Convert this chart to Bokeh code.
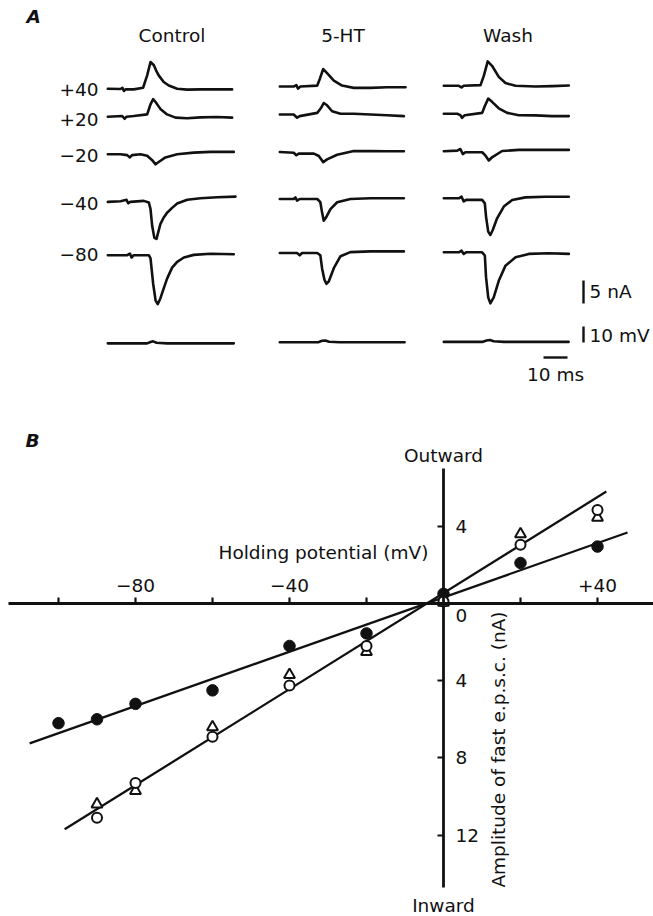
import math
from bokeh.plotting import figure
from bokeh.layouts import column
from bokeh.models import Range1d, LinearAxis, FixedTicker, Label
from bokeh.embed import file_html
from bokeh.resources import INLINE

# ---------------- Panel A data: recorded traces (time ms, current nA) ----------------
conditions = ["Control", "5-HT", "Wash"]
holding_labels = ["+40", "+20", "\u221220", "\u221240", "\u221280"]

ctrl_p40 = [(0, 0), (5.3, -0.07), (6.1, 0.2), (6.7, -0.5), (7.4, -0.15), (10.8, -0.15), (14.7, 0.2),
            (16.4, 2.9), (17.8, 5.8), (19.2, 5.1), (20.1, 4.0), (21.2, 2.9), (23.3, 1.45), (25.4, 0.7),
            (28.9, 0), (33.1, -0.2), (38.6, -0.15), (45.6, -0.15), (51.8, -0.15)]
ctrl_p20 = [(0, 0), (6.0, 0.15), (7.0, -0.45), (7.8, 0), (10.8, 0.15), (16.4, 0.5), (17.8, 2.7),
            (18.9, 3.8), (19.9, 3.2), (21.9, 1.7), (24.7, 0.5), (28.2, -0.2), (33.1, -0.35),
            (38.6, -0.15), (45.6, -0.07), (51.8, -0.2)]
ctrl_m20 = [(0, 0), (5.3, 0), (8.1, -0.2), (9.2, -0.7), (10.1, -0.2), (13.6, 0), (16.4, -0.35),
            (18.5, -1.3), (19.9, -2.2), (21.2, -1.7), (24.0, -0.7), (28.9, 0), (35.8, 0.35),
            (42.8, 0.5), (52.5, 0.5)]
ctrl_m40 = [(0, -0.15), (5.3, 0), (7.8, 0.3), (8.5, -0.45), (9.4, -0.15), (15.0, 0.07), (17.1, -0.3),
            (17.8, -1.7), (18.5, -5.4), (19.4, -7.97), (20.3, -8.2), (21.9, -5.0), (23.3, -3.55),
            (24.7, -2.5), (26.8, -1.45), (28.9, -0.5), (33.1, 0.3), (38.6, 0.65), (45.6, 0.87),
            (53.2, 1.0)]
ctrl_m80 = [(0, 0), (8.1, 0), (9.2, 0.35), (9.9, -0.5), (10.8, 0), (17.1, 0), (17.8, -0.7),
            (18.9, -6.2), (19.9, -9.8), (20.8, -10.65), (21.9, -9.4), (23.3, -7.2), (24.7, -5.1),
            (26.8, -2.7), (28.9, -1.45), (31.7, -0.5), (35.8, 0.07), (42.8, 0.3), (52.5, 0.2)]
ctrl_v = [(0, 0), (16.4, 0), (17.8, 0.8), (18.9, 1.25), (20.3, 0.4), (24.7, 0), (52.5, 0)]

ht_p40 = [(0, 0), (5.8, 0), (6.9, 0.3), (7.6, -0.45), (8.6, 0), (15.6, 0.2), (16.7, 1.7), (18.1, 3.8),
          (19.7, 2.9), (22.5, 1.3), (25.95, 0.2), (30.8, -0.3), (37.8, -0.3), (44.7, -0.15), (52.4, -0.15)]
ht_p20 = [(0, 0), (5.8, 0), (7.2, -0.7), (8.3, -0.35), (15.6, 0.35), (16.7, 1.1), (17.2, 1.45),
          (18.3, 2.5), (19.7, 2.0), (21.8, 0.7), (25.3, 0.15), (30.8, 0.15), (37.8, 0), (44.7, -0.15),
          (51.7, -0.35)]
ht_m20 = [(0, 0), (5.8, -0.15), (6.9, -0.7), (7.9, -0.35), (14.2, -0.35), (16.25, -0.87), (18.1, -2.2),
          (19.7, -1.6), (23.9, -0.6), (30.8, 0.2), (37.8, 0.2), (44.7, 0.15), (51.7, 0.15)]
ht_m40 = [(0, 0), (5.8, 0), (6.5, 0.35), (7.2, -0.35), (8.3, 0), (15.6, 0), (16.9, -0.7), (17.6, -2.9),
          (18.3, -4.7), (19.3, -4.0), (21.1, -2.2), (23.9, -0.7), (29.4, 0), (37.8, 0.15), (51.7, 0.15)]
ht_m80 = [(0, 0), (7.2, 0), (8.3, -0.5), (9.3, 0), (15.6, 0), (16.9, -0.5), (17.6, -3.3), (18.6, -5.8),
          (19.4, -6.7), (20.4, -6.2), (22.5, -3.3), (25.3, -0.7), (29.4, 0.2), (37.8, 0.35), (51.7, 0.35)]
ht_v = [(0, 0), (16.0, 0), (17.6, 0.9), (19.0, 1.1), (20.5, 0.3), (25.0, 0), (52.0, 0)]

w_p40 = [(0, 0), (6.25, 0), (7.4, -0.35), (8.3, 0), (15.3, 0.15), (16.7, 2.2), (18.3, 5.3), (20.1, 4.35),
         (22.9, 1.95), (25.7, 0.6), (29.9, 0), (38.2, -0.15), (45.1, -0.07), (52.1, 0.07)]
w_p20 = [(0, 0), (5.6, 0), (6.9, -0.3), (7.6, -0.87), (8.75, -0.3), (16.0, 0.2), (17.1, 1.7),
         (18.5, 3.3), (20.1, 2.6), (22.9, 1.2), (26.4, 0.2), (31.25, -0.3), (38.2, -0.35),
         (45.1, -0.5), (52.1, -0.5)]
w_m20 = [(0, 0), (5.6, 0.15), (6.9, 0.5), (7.9, -0.6), (9.0, -0.2), (16.0, -0.2), (17.4, -0.95),
         (18.75, -2.0), (20.1, -1.3), (24.3, 0.07), (31.25, 0.3), (38.2, 0.3), (52.1, 0.3)]
w_m40 = [(0, 0), (6.25, 0), (7.4, 0.35), (8.3, -0.7), (9.3, -0.35), (15.97, -0.35), (17.1, -1.1),
         (17.6, -3.98), (18.5, -7.25), (19.4, -7.97), (20.4, -6.9), (22.2, -4.35), (25.0, -1.8),
         (28.5, -0.35), (34.0, 0.2), (42.4, 0.35), (52.1, 0.35)]
w_m80 = [(0, 0), (6.25, 0), (7.4, 0.35), (8.3, -0.35), (9.3, 0), (15.97, 0), (17.1, -0.7), (17.6, -5.4),
         (18.5, -9.8), (19.4, -11.1), (20.8, -9.8), (22.9, -6.2), (25.7, -2.9), (29.9, -1.1),
         (35.4, -0.35), (43.75, -0.2), (52.1, -0.35)]
w_v = [(0, 0), (16.0, 0), (17.8, 0.9), (19.2, 1.2), (20.8, 0.4), (25.0, 0), (52.0, 0)]

current_traces = [
    [ctrl_p40, ctrl_p20, ctrl_m20, ctrl_m40, ctrl_m80],
    [ht_p40, ht_p20, ht_m20, ht_m40, ht_m80],
    [w_p40, w_p20, w_m20, w_m40, w_m80],
]
voltage_traces = [ctrl_v, ht_v, w_v]

bar_nA = 5
bar_mV = 10
bar_ms = 10

# ---------------- Panel B data: I-V relation ----------------
holding_all = [-100, -90, -80, -60, -40, -20, 0, 20, 40]
amp_5ht = [-6.2, -6.0, -5.2, -4.5, -2.2, -1.55, 0.5, 2.1, 2.95]
holding_cw = [-90, -80, -60, -40, -20, 0, 20, 40]
amp_control = [-11.1, -9.3, -6.9, -4.25, -2.2, 0.1, 3.05, 4.85]
amp_wash = [-10.4, -9.7, -6.4, -3.7, -2.5, 0.05, 3.6, 4.45]
fit_5ht_V = [-107.5, 47.8]
fit_5ht_I = [-7.25, 3.68]
fit_ctrl_V = [-98.4, 42.3]
fit_ctrl_I = [-11.7, 5.8]
x_ticks = [-100, -80, -60, -40, -20, 20, 40]
x_tick_labels = {-100: "", -80: "\u221280", -60: "", -40: "\u221240", -20: "", 20: "", 40: "+40"}
y_ticks = [4, -4, -8, -12]
y_tick_labels = {4: "4", -4: "4", -8: "8", -12: "12"}

FONT = "DejaVu Sans"
FS = "18.5px"
INK = "#111111"
W = 653
HA = 388
HB = 528

# ---------------- Panel A figure ----------------
MS_PX = 2.4   # px per ms
NA_PX = 4.6   # px per nA
MV_PX = 1.6   # px per mV


def ax(px):
    return px / MS_PX


def ay(py):
    return (HA - py) / NA_PX


def amv(py):
    return (HA - py) / MV_PX


pa = figure(width=W, height=HA, x_range=Range1d(0, W / MS_PX), y_range=Range1d(0, HA / NA_PX),
            x_axis_type=None, y_axis_type=None, toolbar_location=None, output_backend="svg",
            min_border=0, outline_line_color=None)
pa.extra_y_ranges = {"mv": Range1d(0, HA / MV_PX)}

col_px = [107.3, 279.3, 443.3]
col_shift = [1.7, -0.5, -1.2]
row_px = [86.5, 114.5, 152.0, 199.0, 253.0]
v_px = 342.0

for c in range(3):
    x0 = ax(col_px[c])
    for r in range(5):
        y0 = ay(row_px[r] + col_shift[c])
        pts = current_traces[c][r]
        pa.line([x0 + t for t, _ in pts], [y0 + i for _, i in pts], line_width=2.6, color=INK,
                line_join="round", line_cap="round")
    vy0 = amv(v_px + col_shift[c] * 0.5)
    pts = voltage_traces[c]
    pa.line([x0 + t for t, _ in pts], [vy0 + v for _, v in pts], line_width=2.6, color=INK,
            line_join="round", line_cap="round", y_range_name="mv")


def lab(p, x, y, text, align="left", baseline="middle", style="normal", angle=0.0, size=FS):
    p.add_layout(Label(x=x, y=y, text=text, text_align=align, text_baseline=baseline,
                       text_font=FONT, text_font_size=size, text_font_style=style,
                       text_color=INK, angle=angle))


lab(pa, ax(26), ay(16), "A", style="bold italic")
title_px = [171.5, 342.5, 507.5]
for c in range(3):
    lab(pa, ax(title_px[c]), ay(35), conditions[c], align="center")
label_py = [88.5, 119.0, 154.5, 202.5, 254.0]
for r in range(5):
    lab(pa, ax(98), ay(label_py[r]), holding_labels[r], align="right")

# scale bars
sb_x = ax(583)
pa.line([sb_x, sb_x], [ay(303), ay(303) + bar_nA], line_width=2.4, color=INK)
pa.line([sb_x, sb_x], [amv(342), amv(342) + bar_mV], line_width=2.4, color=INK, y_range_name="mv")
pa.line([ax(543), ax(543) + bar_ms], [ay(357), ay(357)], line_width=2.4, color=INK)
lab(pa, ax(589), ay(291), "5 nA")
lab(pa, ax(589), ay(335), "10 mV")
lab(pa, ax(555), ay(374), "10 ms", align="center")

# ---------------- Panel B figure ----------------
V_PX = 3.85    # px per mV
I_PX = 19.3    # px per nA
X0 = 443.0     # page x of 0 mV
Y0 = 603.0     # page y of 0 nA
TOP = HA


def bx(px):
    return (px - X0) / V_PX


def by(py):
    return (Y0 - py) / I_PX


pb = figure(width=W, height=HB, x_range=Range1d(bx(0), bx(W)), y_range=Range1d(by(TOP + HB), by(TOP)),
            x_axis_type=None, y_axis_type=None, toolbar_location=None, output_backend="svg",
            min_border=0, outline_line_color=None)

xaxis = LinearAxis(fixed_location=0, ticker=FixedTicker(ticks=x_ticks),
                   major_label_overrides=x_tick_labels, bounds=(bx(8), bx(W)))
xaxis.axis_line_width = 2.8
xaxis.axis_line_color = INK
xaxis.major_tick_line_width = 2.2
xaxis.major_tick_line_color = INK
xaxis.major_tick_out = 6
xaxis.major_tick_in = 0
xaxis.minor_tick_line_color = None
xaxis.major_label_standoff = 6
xaxis.major_label_text_font = FONT
xaxis.major_label_text_font_size = FS
xaxis.major_label_text_color = INK
pb.add_layout(xaxis, "above")

yaxis = LinearAxis(fixed_location=0, ticker=FixedTicker(ticks=y_ticks),
                   major_label_overrides=y_tick_labels, bounds=(by(887), by(468)))
yaxis.axis_line_width = 2.8
yaxis.axis_line_color = INK
yaxis.major_tick_line_width = 2.2
yaxis.major_tick_line_color = INK
yaxis.major_tick_out = 0
yaxis.major_tick_in = 6
yaxis.minor_tick_line_color = None
yaxis.major_label_standoff = 12
yaxis.major_label_text_font = FONT
yaxis.major_label_text_font_size = FS
yaxis.major_label_text_color = INK
pb.add_layout(yaxis, "right")

pb.line(fit_5ht_V, fit_5ht_I, line_width=2.3, color=INK)
pb.line(fit_ctrl_V, fit_ctrl_I, line_width=2.3, color=INK)
pb.scatter(holding_all, amp_5ht, marker="circle", size=11.5, fill_color=INK, line_color=INK, line_width=1)
pb.scatter(holding_cw, amp_wash, marker="triangle", size=11, fill_color="white", line_color=INK,
           line_width=2)
pb.scatter(holding_cw, amp_control, marker="circle", size=10, fill_color="white", line_color=INK,
           line_width=2)

lab(pb, bx(25), by(440), "B", style="bold italic")
lab(pb, bx(443), by(455), "Outward", align="center")
lab(pb, bx(443), by(905), "Inward", align="center")
lab(pb, bx(218), by(552), "Holding potential (mV)")
lab(pb, bx(461), by(615), "0", align="center")
lab(pb, bx(498), by(749), "Amplitude of fast e.p.s.c. (nA)", align="center", angle=math.pi / 2)

layout = column(pa, pb, spacing=0)
open("out.html", "w").write(file_html(layout, INLINE))
